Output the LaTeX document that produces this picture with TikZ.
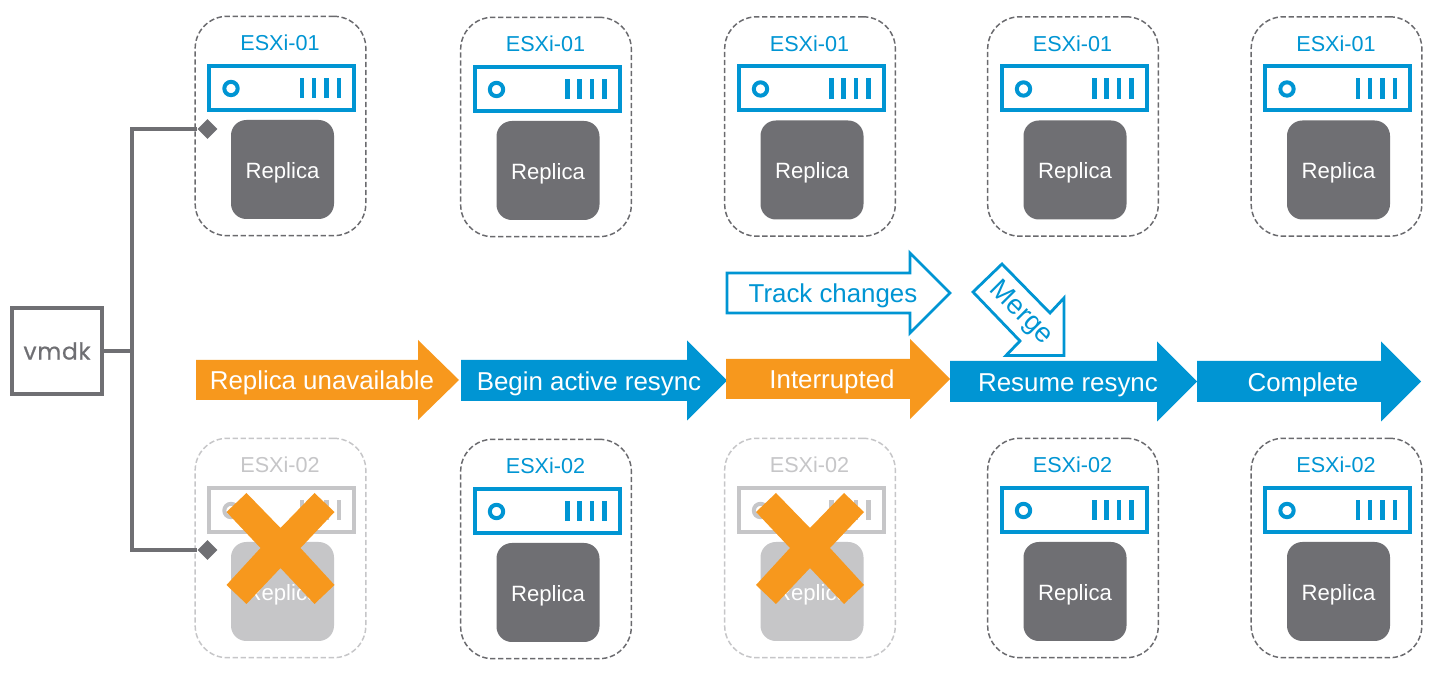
\documentclass[tikz,border=0pt]{standalone}
\usepackage{fontspec}
\setmainfont{Liberation Sans}
\newfontfamily\vmdkfont[FakeBold=0.6,LetterSpace=3]{Poppins}
\usetikzlibrary{shapes.geometric}
\definecolor{vblue}{HTML}{0095D3}
\definecolor{vorange}{HTML}{F7981D}
\definecolor{vgrey}{HTML}{6F6F73}
\definecolor{vdash}{HTML}{6A6A6E}
\definecolor{vghost}{HTML}{C6C6C8}
\tikzset{
  hostbox/.style={draw=#1,line width=1.1pt,dash pattern=on 4pt off 2pt,rounded corners=24pt,minimum width=128pt,minimum height=164.5pt,inner sep=0pt},
  hostlabel/.style={text=#1,font=\fontsize{16.2pt}{18pt}\selectfont,inner sep=0pt},
  serverbox/.style={draw=#1,line width=3pt,minimum width=108.75pt,minimum height=33pt,inner sep=0pt},
  serverlamp/.style={draw=#1,line width=3pt,circle,minimum size=10pt,inner sep=0pt},
  serverbar/.style={fill=#1,minimum width=3.5pt,minimum height=15.5pt,inner sep=0pt},
  replicabox/.style={fill=#1,text=white,rounded corners=11.5pt,minimum width=77.25pt,minimum height=74.25pt,inner sep=0pt,font=\fontsize{16.6pt}{18pt}\selectfont,text height=13pt,text depth=0pt},
  flowlabel/.style={inner sep=0pt,font=\fontsize{19.4pt}{22pt}\selectfont,text height=14.5pt,text depth=0pt},
  mergelabel/.style={inner sep=0pt,font=\fontsize{20.5pt}{22pt}\selectfont,text height=14.5pt,text depth=0pt},
  flowshape/.style={fill=#1},
  outlineshape/.style={draw=vblue,line width=2.1pt,fill=white,miter limit=10},
  tiebar/.style={draw=vgrey,line width=3pt,line join=miter},
  tiemark/.style={diamond,fill=vgrey,minimum size=15pt,inner sep=0pt},
  crossmark/.style={fill=vorange},
  vmdkbox/.style={draw=vgrey,line width=3pt,minimum width=67.5pt,minimum height=64.5pt,inner sep=0pt,text=vgrey,font=\vmdkfont\fontsize{17.5pt}{18pt}\selectfont},
}
% #1 name, #2 dx, #3 dy, #4 label, #5 line colour, #6 replica colour, #7 label colour
\newcommand{\hostcol}[7]{%
  \node[hostbox=#5] (#1box) at ({#2+280.5},{#3+126}) {};
  \node[hostlabel=#7] (#1lab) at ({#2+280},{#3+43}) {#4};
  \node[serverbox=#7] (#1srv) at ({#2+281.5},{#3+88}) {};
  \node[serverlamp=#7] (#1lamp) at ({#2+231},{#3+88.5}) {};
  \node[serverbar=#7] (#1ba) at ({#2+302},{#3+88}) {};
  \node[serverbar=#7] (#1bb) at ({#2+314},{#3+88}) {};
  \node[serverbar=#7] (#1bc) at ({#2+326.5},{#3+88}) {};
  \node[serverbar=#7] (#1bd) at ({#2+339},{#3+88}) {};
  \node[replicabox=#6] (#1rep) at ({#2+282.5},{#3+169.5}) {Replica};
}
% #1 name, #2 x0, #3 xhead, #4 xtip, #5 yc, #6 half shaft, #7 half head, #8 colour, #9 text x
\newcommand{\flowarrow}[9]{%
  \fill[flowshape=#8] (#2,{#5-#6}) -- (#3,{#5-#6}) -- (#3,{#5-#7}) -- (#4,#5) -- (#3,{#5+#7}) -- (#3,{#5+#6}) -- (#2,{#5+#6}) -- cycle;
  \coordinate (#1) at (#9,#5);
}
\newcommand{\crossat}[2]{%
  \fill[crossmark] ({#1-34},{#2-55}) -- ({#1},{#2-20}) -- ({#1+34},{#2-55}) -- ({#1+54},{#2-36}) -- ({#1+20},{#2}) -- ({#1+54},{#2+37}) -- ({#1+34},{#2+56}) -- ({#1},{#2+20}) -- ({#1-34},{#2+56}) -- ({#1-54},{#2+37}) -- ({#1-20},{#2}) -- ({#1-54},{#2-36}) -- cycle;
}
\begin{document}
\begin{tikzpicture}[x=0.75pt,y=-0.75pt]
\useasboundingbox (0,0) rectangle (1443,680);
\fill[white] (0,0) rectangle (1443,680);

\hostcol{ta}{0}{0}{ESXi-01}{vdash}{vgrey}{vblue}
\hostcol{tb}{265.5}{1}{ESXi-01}{vdash}{vgrey}{vblue}
\hostcol{tc}{529.5}{0.5}{ESXi-01}{vdash}{vgrey}{vblue}
\hostcol{td}{792.5}{0.5}{ESXi-01}{vdash}{vgrey}{vblue}
\hostcol{te}{1056}{0.5}{ESXi-01}{vdash}{vgrey}{vblue}

\hostcol{ba}{0}{422}{ESXi-02}{vghost}{vghost}{vghost}
\hostcol{bb}{265.5}{423}{ESXi-02}{vdash}{vgrey}{vblue}
\hostcol{bc}{529.5}{422}{ESXi-02}{vghost}{vghost}{vghost}
\hostcol{bd}{792.5}{422}{ESXi-02}{vdash}{vgrey}{vblue}
\hostcol{be}{1056}{422}{ESXi-02}{vdash}{vgrey}{vblue}

\crossat{280.5}{548}
\crossat{810}{548}

% vmdk and its ties
\node[vmdkbox] (vmdk) at (57,351) {vmdk};
\coordinate (trunk) at (132,351);
\node[tiemark] (tieup) at (207.5,129) {};
\node[tiemark] (tiedown) at (207.5,550) {};
\draw[tiebar] (vmdk.east) -- (trunk);
\draw[tiebar] (tieup.west) -- (tieup.west -| trunk) -- (tiedown.west -| trunk) -- (tiedown.west);

% main flow
\flowarrow{fa}{196}{418}{459}{380}{20}{40}{vorange}{322}
\node[flowlabel,text=white] (falab) at (fa) {Replica unavailable};
\flowarrow{fb}{461}{687}{727}{380.5}{20.5}{40}{vblue}{589}
\node[flowlabel,text=white] (fblab) at (fb) {Begin active resync};
\flowarrow{fc}{726}{910}{950}{379}{20}{40}{vorange}{832}
\node[flowlabel,text=white] (fclab) at (fc) {Interrupted};
\flowarrow{fd}{950}{1157}{1197}{381.5}{20.5}{40}{vblue}{1068}
\node[flowlabel,text=white] (fdlab) at (fd) {Resume resync};
\flowarrow{fe}{1197}{1381}{1421}{381.5}{20.5}{40}{vblue}{1303}
\node[flowlabel,text=white] (felab) at (fe) {Complete};

% outlined arrows
\draw[outlineshape] (727,273) -- (910,273) -- (910,253) -- (950,293) -- (910,333) -- (910,313) -- (727,313) -- cycle;
\node[flowlabel,text=vblue] (track) at (833,293) {Track changes};
\draw[outlineshape] (973,292) -- (1002,264) -- (1050,313) -- (1064,298) -- (1064,355.5) -- (1006,355.5) -- (1020,341) -- cycle;
\node[mergelabel,text=vblue,rotate=-45] (merge) at (1023,311) {Merge};
\end{tikzpicture}
\end{document}
